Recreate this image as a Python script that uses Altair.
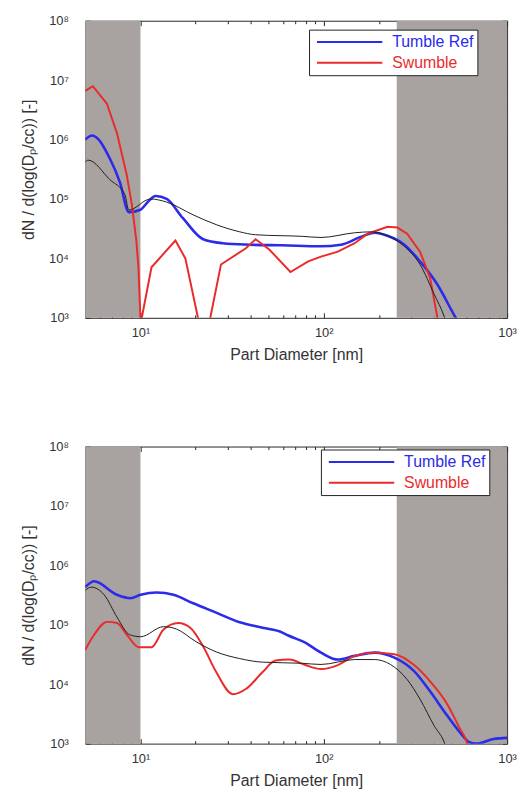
import altair as alt
import pandas as pd

# ---------------- styling constants ----------------
BLUE = "#2b2bea"
RED = "#ea2b2b"
BLACK = "#1e1e1e"
GRAY = "#a8a3a1"
FRAME = "#262626"
TEXT = "#333333"
FONT = "Liberation Sans"

X_DOMAIN = [5, 1000]
Y_DOMAIN = [1e3, 1e8]
BAND_START = [5, 250]
BAND_END = [10, 1000]

SERIES = ["Tumble Ref", "Swumble"]

# ---------------- data: top panel ----------------
top_blue_d = [5.0, 5.45, 6.83, 7.73, 8.64, 10.0, 11.0, 12.1, 13.9, 17.1, 22.0, 28.2, 39.4,
              59.5, 96.6, 124, 159, 189.5, 222.6, 275, 335, 415, 518, 600]
top_blue_v = [1.0e6, 1.17e6, 4.7e5, 1.9e5, 6.0e4, 6.6e4, 9.0e4, 1.12e5, 1.0e5, 4.7e4, 2.1e4,
              1.8e4, 1.7e4, 1.66e4, 1.6e4, 1.7e4, 2.3e4, 2.7e4, 2.4e4, 1.7e4, 8.9e3, 3.7e3,
              1.07e3, 500]

top_red_d = [5.0, 5.5, 6.57, 6.83, 7.46, 8.0, 8.43, 8.98, 9.5, 9.75, 10.03, 11.49, 15.52,
             17.58, 22.3, 27.5, 37.6, 42.5, 50.6, 65.8, 82.3, 96.6, 119.4, 147.5, 173.6,
             222.6, 252, 285, 335, 380, 415, 450]
top_red_v = [6.6e6, 7.9e6, 4.0e6, 2.8e6, 1.26e6, 5.0e5, 2.5e5, 8.0e4, 2.0e4, 7.1e3, 800,
             7.1e3, 2.0e4, 1.0e4, 316, 7.9e3, 1.48e4, 2.1e4, 1.4e4, 5.9e3, 8.9e3, 1.07e4,
             1.3e4, 1.8e4, 2.6e4, 3.4e4, 3.3e4, 2.6e4, 1.3e4, 4.7e3, 1.07e3, 400]

top_black_d = [5.0, 5.19, 6.83, 8.22, 8.64, 11.35, 13.86, 19.4, 25.9, 34.8, 42.5, 76.4,
               96.6, 147.5, 180, 222.6, 275, 335, 400, 453, 500]
top_black_v = [4.2e5, 4.5e5, 2.1e5, 1.2e5, 6.5e4, 1.0e5, 8.9e4, 5.4e4, 3.7e4, 2.8e4, 2.5e4,
               2.35e4, 2.25e4, 2.7e4, 2.8e4, 2.4e4, 1.6e4, 7.9e3, 2.5e3, 1.07e3, 400]

# ---------------- data: bottom panel ----------------
bot_blue_d = [5.0, 5.59, 7.45, 8.8, 10.03, 12.25, 15.14, 19.4, 25.9, 34.8, 46.4, 59.5,
              64.1, 79.3, 96.6, 119.4, 147.5, 189.5, 243, 311, 380, 470, 580, 617, 682,
              843, 1000]
bot_blue_v = [4.3e5, 5.4e5, 3.2e5, 2.8e5, 3.2e5, 3.5e5, 3.2e5, 2.3e5, 1.6e5, 1.1e5, 8.9e4,
              7.4e4, 6.6e4, 5.0e4, 3.4e4, 2.6e4, 3.0e4, 3.4e4, 2.8e4, 1.66e4, 7.6e3, 3.0e3,
              1.3e3, 1.07e3, 1.0e3, 1.2e3, 1.25e3]

bot_red_d = [5.0, 5.59, 6.57, 7.45, 8.43, 9.78, 11.49, 13.37, 16.1, 18.7, 22.0, 25.9, 31.9,
             37.6, 46.4, 54.5, 65.0, 79.3, 96.6, 119.4, 147.5, 189.5, 243, 311, 380, 470,
             552, 602, 640]
bot_red_v = [3.8e4, 6.8e4, 1.12e5, 1.07e5, 6.8e4, 4.2e4, 4.2e4, 8.3e4, 1.07e5, 8.9e4,
             4.3e4, 1.6e4, 6.8e3, 8.3e3, 1.6e4, 2.5e4, 2.6e4, 2.1e4, 1.8e4, 2.1e4, 3.0e4,
             3.4e4, 3.2e4, 2.1e4, 1.12e4, 4.7e3, 1.8e3, 1.07e3, 500]

bot_black_d = [5.0, 5.39, 6.34, 7.45, 8.74, 10.03, 13.37, 15.7, 20.1, 25.9, 34.8, 46.4,
               76.4, 96.6, 147.5, 189.5, 231, 285, 335, 400, 453, 500]
bot_black_v = [3.8e5, 4.3e5, 3.2e5, 1.35e5, 6.8e4, 6.3e4, 9.3e4, 8.5e4, 5.2e4, 3.5e4,
               2.7e4, 2.35e4, 2.25e4, 2.15e4, 2.6e4, 2.6e4, 2.15e4, 1.2e4, 5.6e3, 2.0e3,
               1.07e3, 400]

# ---------------- ticks ----------------
X_MAJOR = [10, 100, 1000]
X_MINOR = [6, 7, 8, 9, 20, 30, 40, 50, 60, 70, 80, 90, 200, 300, 400, 500, 600, 700, 800, 900]
Y_MAJOR = [1e3, 1e4, 1e5, 1e6, 1e7, 1e8]
Y_MINOR = [m * 10 ** e for e in range(3, 8) for m in range(2, 10)]

POW_LABEL = ("'10' + ['\u2070','\u00b9','\u00b2','\u00b3','\u2074','\u2075','\u2076',"
             "'\u2077','\u2078'][round(log(datum.value)/LN10)]")

W, H = 426, 300


def tick_axis(orient, values, size):
    return alt.Axis(orient=orient, values=values, labels=False, ticks=True, tickSize=size,
                    offset=-size, domain=False, grid=False, title=None,
                    tickColor=FRAME, tickWidth=1)


def make_panel(blue_d, blue_v, red_d, red_v, blk_d, blk_v, red_interp, lx, ly):
    xs = alt.Scale(type="log", domain=X_DOMAIN)
    ys = alt.Scale(type="log", domain=Y_DOMAIN)
    cs = alt.Scale(domain=SERIES, range=[BLUE, RED])
    legend = alt.Legend(
        title=None, orient="none", legendX=lx, legendY=ly,
        symbolType="stroke", symbolSize=4356, symbolStrokeWidth=2,
        clipHeight=19, rowPadding=2, padding=3, symbolOffset=4, labelOffset=9,
        labelFont=FONT, labelFontSize=16, strokeColor="#222222", fillColor="white",
        labelColor={"expr": "datum.value == 'Tumble Ref' ? '%s' : '%s'" % (BLUE, RED)},
    )

    bands = pd.DataFrame({"x0": BAND_START, "x1": BAND_END,
                          "y0": [Y_DOMAIN[0]] * 2, "y1": [Y_DOMAIN[1]] * 2})
    blue = pd.DataFrame({"d": blue_d, "v": blue_v, "s": SERIES[0]})
    red = pd.DataFrame({"d": red_d, "v": red_v, "s": SERIES[1]})
    blk = pd.DataFrame({"d": blk_d, "v": blk_v})

    x_lab = alt.Axis(orient="bottom", values=X_MAJOR, ticks=False, domain=False, grid=False,
                     labelExpr=POW_LABEL, labelFlush=False, labelPadding=9,
                     title="Part Diameter [nm]", titlePadding=7)
    y_lab = alt.Axis(orient="left", values=Y_MAJOR, ticks=False, domain=False, grid=False,
                     labelExpr=POW_LABEL, labelFlush=False, labelPadding=17,
                     title="dN / d(log(D\u209a/cc)) [-]", titlePadding=12)

    left_band = alt.Chart(bands.iloc[[0]]).mark_rect(color=GRAY).encode(
        x=alt.X("x0:Q", scale=xs, axis=x_lab), x2="x1:Q",
        y=alt.Y("y0:Q", scale=ys, axis=y_lab), y2="y1:Q")
    right_band = alt.Chart(bands.iloc[[1]]).mark_rect(color=GRAY).encode(
        x=alt.X("x0:Q", scale=xs, axis=tick_axis("bottom", X_MAJOR, 5)), x2="x1:Q",
        y=alt.Y("y0:Q", scale=ys, axis=tick_axis("left", Y_MAJOR, 5)), y2="y1:Q")
    blue_line = alt.Chart(blue).mark_line(strokeWidth=2.6, clip=True,
                                          interpolate="monotone").encode(
        x=alt.X("d:Q", scale=xs, axis=tick_axis("bottom", X_MINOR, 3)),
        y=alt.Y("v:Q", scale=ys, axis=tick_axis("left", Y_MINOR, 3)),
        color=alt.Color("s:N", scale=cs, legend=legend))
    red_line = alt.Chart(red).mark_line(strokeWidth=2.0, clip=True,
                                        interpolate=red_interp).encode(
        x=alt.X("d:Q", scale=xs, axis=tick_axis("top", X_MAJOR, 5)),
        y=alt.Y("v:Q", scale=ys, axis=tick_axis("right", Y_MAJOR, 5)),
        color=alt.Color("s:N", scale=cs, legend=legend))
    black_line = alt.Chart(blk).mark_line(strokeWidth=1.0, clip=True, color=BLACK,
                                          interpolate="monotone").encode(
        x=alt.X("d:Q", scale=xs, axis=tick_axis("top", X_MINOR, 3)),
        y=alt.Y("v:Q", scale=ys, axis=tick_axis("right", Y_MINOR, 3)))

    return alt.layer(left_band, right_band, blue_line, red_line, black_line).resolve_axis(
        x="independent", y="independent").properties(width=W, height=H)


top = make_panel(top_blue_d, top_blue_v, top_red_d, top_red_v, top_black_d, top_black_v,
                 "linear", 226, 9)
bottom = make_panel(bot_blue_d, bot_blue_v, bot_red_d, bot_red_v, bot_black_d, bot_black_v,
                    "monotone", 238, 3)

chart = alt.vconcat(top, bottom, spacing=130, bounds="flush").resolve_scale(
    color="independent").resolve_legend(color="independent").properties(
    padding={"left": 12, "top": 2, "right": 0, "bottom": 0}
).configure(background="white").configure_view(
    stroke=FRAME, strokeWidth=1
).configure_axis(
    labelFont=FONT, labelFontSize=13, labelColor=TEXT,
    titleFont=FONT, titleFontSize=16, titleColor=TEXT, titleFontWeight="normal"
)

chart.save("out.html", embed_options={"renderer": "svg", "actions": False})
